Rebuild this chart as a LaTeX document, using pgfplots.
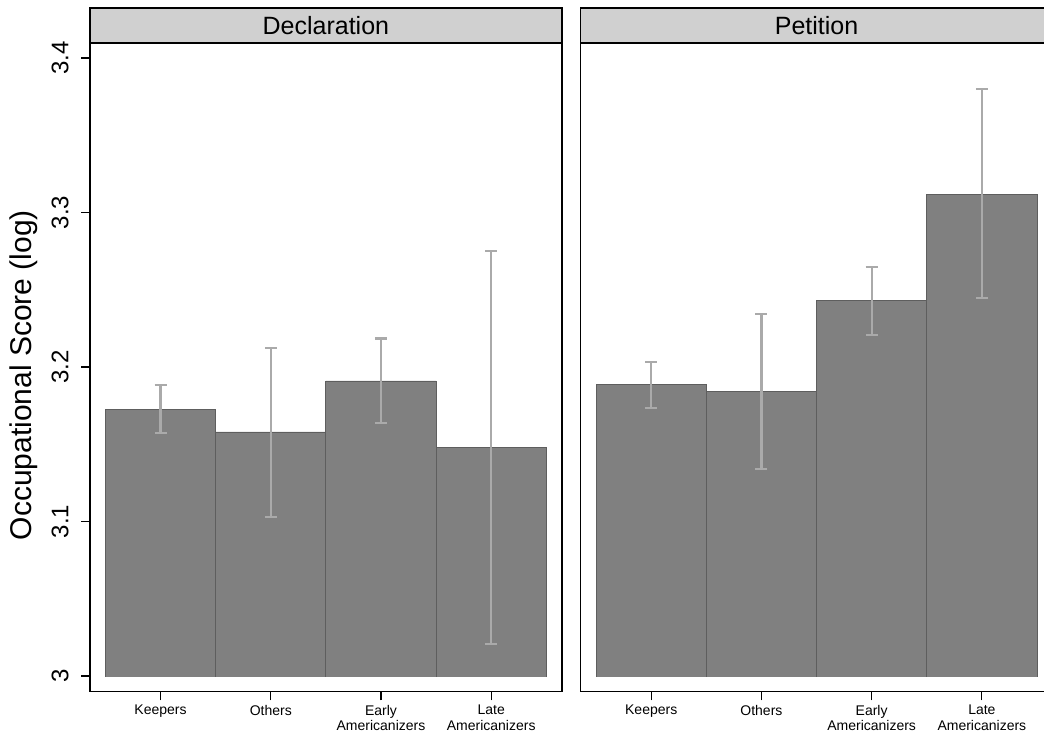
\documentclass[border=0pt]{standalone}
\usepackage{fontspec}
\setmainfont{Liberation Sans}
\usepackage{pgfplots}
\pgfplotsset{compat=1.18}
\usepackage{pgfplotstable}

\definecolor{barfill}{HTML}{808080}
\definecolor{barline}{HTML}{5E5E5E}
\definecolor{errcol}{HTML}{AAAAAA}
\definecolor{headfill}{HTML}{D0D0D0}

\pgfplotstableread{
x y ep em
0 3.1727 0.0157 0.0155
1 3.1580 0.0545 0.0550
2 3.1910 0.0275 0.0270
3 3.1480 0.1270 0.1274
}\decl
\pgfplotstableread{
x y ep em
0 3.1886 0.0148 0.0151
1 3.1840 0.0505 0.0500
2 3.2430 0.0220 0.0220
3 3.3120 0.0680 0.0675
}\peti

\pgfplotsset{
  panel/.style={
    width=353.8pt, height=486.2pt, scale only axis,
    xmin=-0.64, xmax=3.64, ymin=2.9901, ymax=3.4097,
    axis on top,
    axis line style={line width=1.2pt, black},
    tick align=outside, tick pos=left,
    major tick length=6.75pt,
    tick style={black, line width=0.9pt},
    xtick={0,1,2,3},
    xticklabels={Keepers,Others,{Early\\Americanizers},{Late\\Americanizers}},
    xticklabel style={align=center, font=\fontsize{10.5}{9.75}\selectfont, anchor=north},
    typeset ticklabels with strut,
    /pgf/number format/assume math mode=true,
  },
  barstyle/.style={ybar, bar width=1, bar shift=0pt, fill=barfill, draw=barline, line width=0.6pt},
  errstyle/.style={draw=none, mark=none, forget plot,
    error bars/.cd, y dir=both, y explicit,
    error bar style={draw=errcol, line width=1.6pt, solid},
    error mark=|,
    error mark options={draw=errcol, line width=1.6pt, mark size=4.5pt, solid}},
}

\begin{document}
\begin{tikzpicture}
\begin{axis}[panel, name=left, at={(67.5pt,30.5pt)}, anchor=south west,
  ytick={3,3.1,3.2,3.3,3.4},
  yticklabels={3,3.1,3.2,3.3,3.4},
  yticklabel style={rotate=90, anchor=south, font=\fontsize{18}{20}\selectfont},
  ylabel={Occupational Score (log)},
  every axis y label/.style={at={([xshift=-50pt,yshift=-6pt]axis description cs:0,0.5)}, rotate=90, anchor=center, font=\fontsize{22.5}{24}\selectfont},
]
\addplot[barstyle] table[x=x, y=y] {\decl};
\addplot[errstyle] table[x=x, y=y, y error plus=ep, y error minus=em] {\decl};
\fill[white] (axis cs:-0.64,2.98) rectangle (axis cs:3.64,2.9996);
\end{axis}
\begin{axis}[panel, name=right, at={(435.5pt,30.5pt)}, anchor=south west,
  ytick=\empty,
]
\addplot[barstyle] table[x=x, y=y] {\peti};
\addplot[errstyle] table[x=x, y=y, y error plus=ep, y error minus=em] {\peti};
\fill[white] (axis cs:-0.64,2.98) rectangle (axis cs:3.64,2.9996);
\end{axis}
\draw[fill=headfill, line width=1.2pt] (left.north west) rectangle ([yshift=26.25pt]left.north east);
\node[font=\fontsize{18.75}{20}\selectfont] at ([yshift=13.1pt]left.north) {Declaration};
\draw[fill=headfill, line width=1.2pt] (right.north west) rectangle ([yshift=26.25pt]right.north east);
\node[font=\fontsize{18.75}{20}\selectfont] at ([yshift=13.1pt]right.north) {Petition};
\pgfresetboundingbox
\path[use as bounding box] (0,0) rectangle (783pt,549pt);
\end{tikzpicture}
\end{document}
